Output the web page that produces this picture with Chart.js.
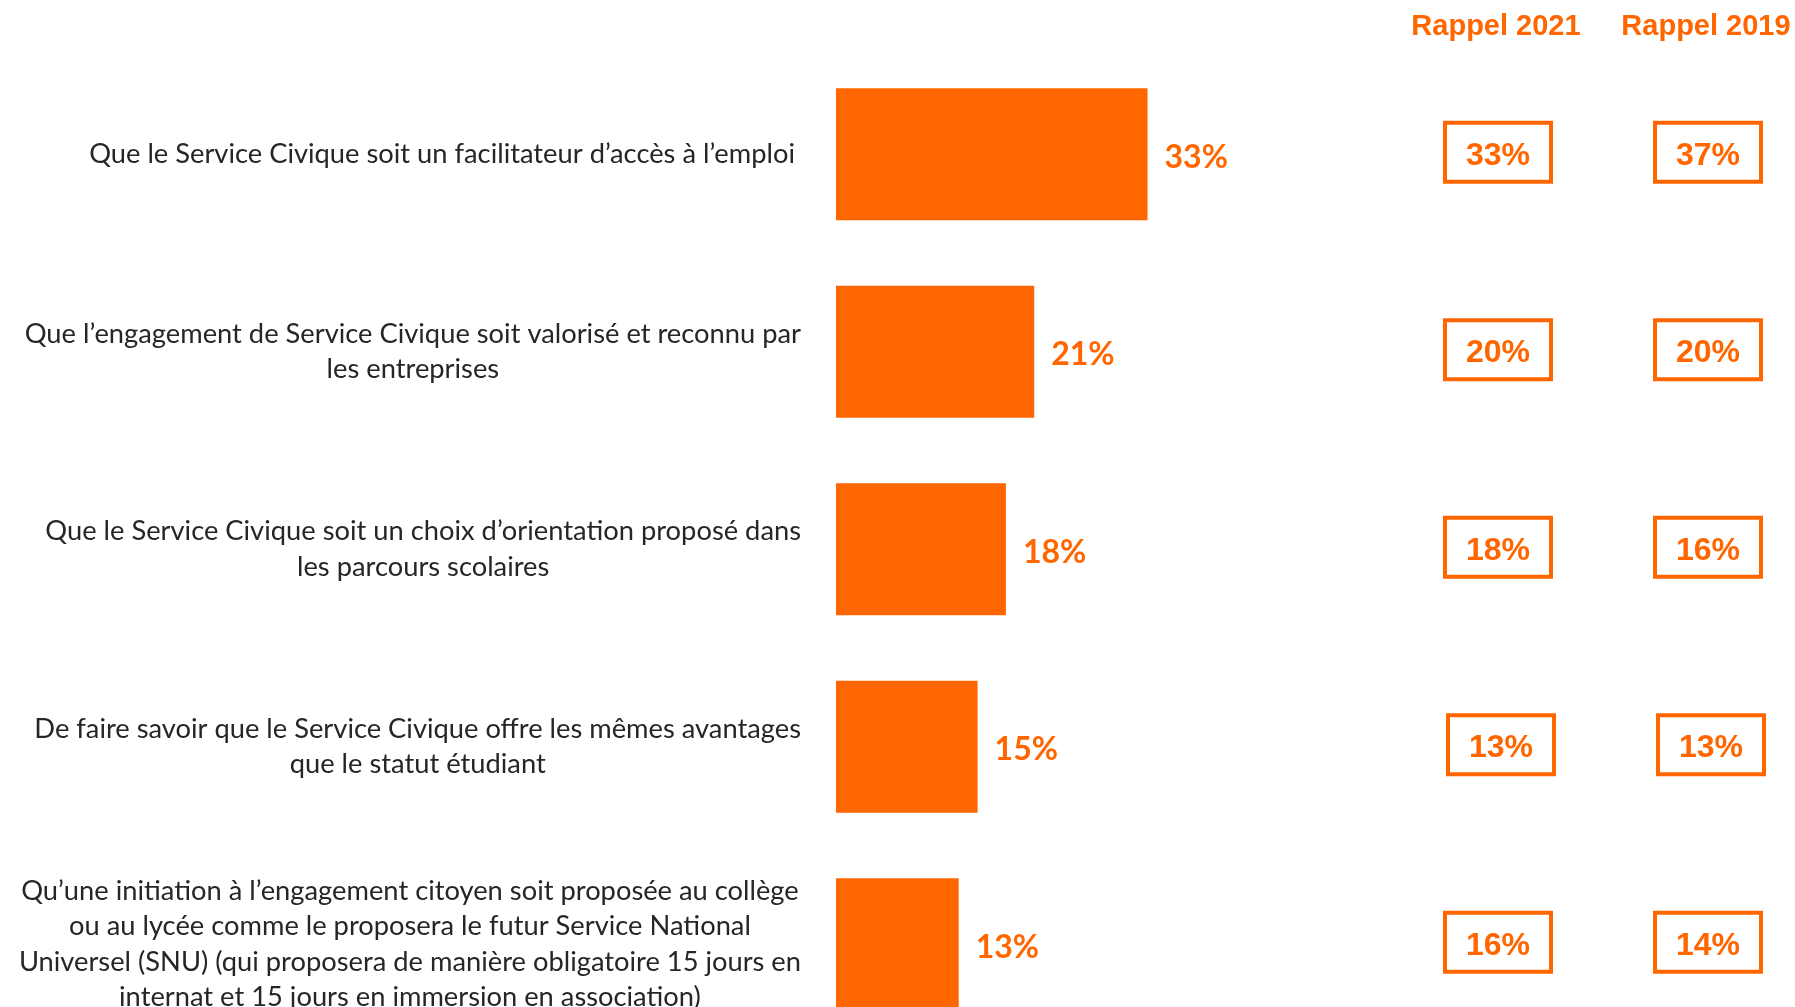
<!DOCTYPE html>
<html>
<head>
<meta charset="utf-8">
<script src="https://cdn.jsdelivr.net/npm/chart.js@4/dist/chart.umd.min.js"></script>
<style>
  html, body { margin: 0; padding: 0; background: #fff; overflow: hidden; }
  #wrap { width: 1795px; height: 1007px; overflow: hidden; }
</style>
</head>
<body>
<div id="wrap"><canvas id="chart" width="1795" height="1043"></canvas></div>
<script>
const categories = [
  ['Que le Service Civique soit un facilitateur d\u2019accès à l\u2019emploi'],
  ['Que l\u2019engagement de Service Civique soit valorisé et reconnu par', 'les entreprises'],
  ['Que le Service Civique soit un choix d\u2019orientation proposé dans', 'les parcours scolaires'],
  ['De faire savoir que le Service Civique offre les mêmes avantages', 'que le statut étudiant'],
  ['Qu\u2019une initiation à l\u2019engagement citoyen soit proposée au collège', 'ou au lycée comme le proposera le futur Service National', 'Universel (SNU) (qui proposera de manière obligatoire 15 jours en', 'internat et 15 jours en immersion en association)']
];
const values2023 = [33, 21, 18, 15, 13];
const rappel2021 = [33, 20, 18, 13, 16];
const rappel2019 = [37, 20, 16, 13, 14];
const columnTitles = ['Rappel 2021', 'Rappel 2019'];

const ORANGE = '#FF6600';

const overlay = {
  id: 'overlay',
  afterDatasetsDraw(chart) {
    const ctx = chart.ctx;
    const y = chart.scales.y;
    const x = chart.scales.x;
    ctx.save();

    // category labels, centred lines, block right-aligned
    ctx.font = '27.3px Lato';
    ctx.fillStyle = '#262626';
    ctx.textBaseline = 'middle';
    ctx.textAlign = 'center';
    const lh = 35.5;
    categories.forEach((lines, i) => {
      const right = i === 0 ? 795 : 801;
      const w = Math.max(...lines.map(l => ctx.measureText(l).width));
      const cx = right - w / 2;
      const cy = y.getPixelForValue(i);
      lines.forEach((l, k) => {
        ctx.fillText(l, cx, cy + (k - (lines.length - 1) / 2) * lh);
      });
    });

    // value labels
    ctx.font = 'bold 32px Lato';
    ctx.fillStyle = ORANGE;
    ctx.textAlign = 'left';
    values2023.forEach((v, i) => {
      ctx.fillText(v + '%', x.getPixelForValue(v) + 17, y.getPixelForValue(i) + 3);
    });

    // column titles
    const colX = [1498, 1708];
    ctx.font = 'bold 29px "Liberation Sans"';
    ctx.textAlign = 'center';
    columnTitles.forEach((t, c) => ctx.fillText(t, colX[c] - 2, 27));

    // boxed recall values
    ctx.lineWidth = 4;
    ctx.strokeStyle = ORANGE;
    ctx.font = 'bold 32px "Liberation Sans"';
    [rappel2021, rappel2019].forEach((arr, c) => {
      arr.forEach((v, i) => {
        const cy = y.getPixelForValue(i) - 2;
        const cx = colX[c] + (i === 3 ? 3 : 0);
        ctx.strokeRect(cx - 53, cy - 29.5, 106, 59);
        ctx.fillText(v + '%', cx, cy + 3.5);
      });
    });
    ctx.restore();
  }
};

new Chart(document.getElementById('chart'), {
  type: 'bar',
  data: {
    labels: categories,
    datasets: [{
      data: values2023,
      backgroundColor: ORANGE,
      borderWidth: 0,
      barPercentage: 0.668,
      categoryPercentage: 1
    }]
  },
  options: {
    indexAxis: 'y',
    responsive: false,
    animation: false,
    layout: { padding: { left: 836, right: 487, top: 55.5, bottom: 0 } },
    plugins: { legend: { display: false }, tooltip: { enabled: false } },
    scales: {
      x: { min: 0, max: 50, display: false, grid: { display: false } },
      y: { display: false, grid: { display: false } }
    }
  },
  plugins: [overlay]
});
</script>
</body>
</html>
